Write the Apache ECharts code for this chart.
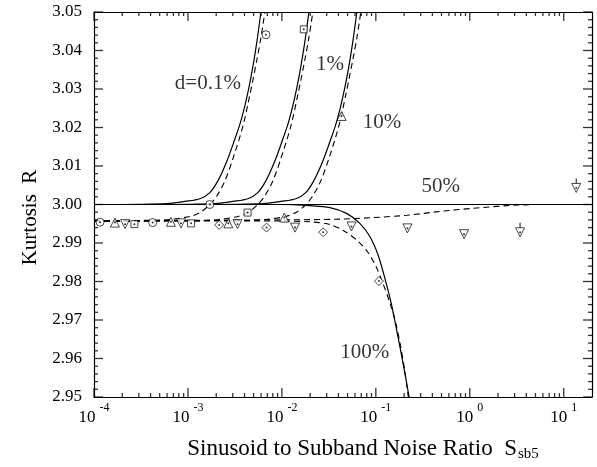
<!DOCTYPE html>
<html>
<head>
<meta charset="utf-8">
<script src="https://cdn.jsdelivr.net/npm/echarts@6/dist/echarts.min.js"></script>
<style>
html,body{margin:0;padding:0;background:#fff;}
#main{width:597px;height:467px;}
</style>
</head>
<body>
<div id="main"></div>
<script>
// theory curves (solid), [S, R]
const solid01 = [[1e-4,3.0000],[1.9e-4,3.0000],[3.9e-4,3.0001],[6.4e-4,3.0003],[9.3e-4,3.0008],[1.34e-3,3.0015],[1.71e-3,3.0031],[2.09e-3,3.0062],[2.6e-3,3.0113],[3.16e-3,3.0170],[3.57e-3,3.0208],[4.04e-3,3.0257],[4.46e-3,3.0304],[4.91e-3,3.0358],[5.42e-3,3.0423],[5.98e-3,3.0500]];
const solid1 = [[1e-4,3.0000],[6.2e-4,3.0000],[1.26e-3,3.0001],[2.07e-3,3.0003],[3.01e-3,3.0008],[4.34e-3,3.0015],[5.54e-3,3.0031],[6.77e-3,3.0062],[8.42e-3,3.0113],[1.024e-2,3.0170],[1.157e-2,3.0208],[1.309e-2,3.0257],[1.445e-2,3.0304],[1.591e-2,3.0358],[1.756e-2,3.0423],[1.938e-2,3.0500]];
const solid10 = [[1e-4,3.0000],[2e-3,3.0000],[4.1e-3,3.0001],[6.72e-3,3.0003],[9.77e-3,3.0008],[1.407e-2,3.0015],[1.796e-2,3.0031],[2.19e-2,3.0062],[2.73e-2,3.0113],[3.32e-2,3.0170],[3.75e-2,3.0208],[4.24e-2,3.0257],[4.68e-2,3.0304],[5.16e-2,3.0358],[5.69e-2,3.0423],[6.28e-2,3.0500]];
const solid50 = [[1e-4,3.0000],[20,3.0000]];
const solid100 = [[1e-4,3.0000],[0.01,3.0000],[0.0199,2.9997],[0.0324,2.9992],[0.0488,2.9977],[0.0676,2.9951],[0.0863,2.9917],[0.1057,2.9869],[0.1246,2.9809],[0.1469,2.9740],[0.1726,2.9655],[0.1985,2.9577],[0.2259,2.9500]];

// approximations (dashed)
const dash01 = [[1e-4,2.9957],[3.94e-4,2.9959],[6.44e-4,2.9961],[1.05e-3,2.9969],[1.34e-3,2.9979],[1.71e-3,3.0000],[2.04e-3,3.0023],[2.48e-3,3.0062],[3.01e-3,3.0119],[3.85e-3,3.0204],[4.57e-3,3.0286],[5.42e-3,3.0376],[5.98e-3,3.0433],[6.59e-3,3.0500]];
const dash1 = [[1e-4,2.9957],[1.28e-3,2.9959],[2.09e-3,2.9961],[3.40e-3,2.9969],[4.34e-3,2.9979],[5.54e-3,3.0000],[6.61e-3,3.0023],[8.04e-3,3.0062],[9.75e-3,3.0119],[1.247e-2,3.0204],[1.481e-2,3.0286],[1.756e-2,3.0376],[1.938e-2,3.0433],[2.135e-2,3.0500]];
const dash10 = [[1e-4,2.9957],[4.14e-3,2.9959],[6.76e-3,2.9961],[1.10e-2,2.9969],[1.41e-2,2.9979],[1.80e-2,3.0000],[2.14e-2,3.0023],[2.60e-2,3.0062],[3.16e-2,3.0119],[4.04e-2,3.0204],[4.80e-2,3.0286],[5.69e-2,3.0376],[6.28e-2,3.0433],[6.92e-2,3.0500]];
const dash50 = [[1e-4,2.9957],[1e-3,2.9958],[1e-2,2.9960],[0.0414,2.9962],[0.0929,2.9966],[0.214,2.9972],[0.48,2.9982],[1.08,2.9990],[2.48,2.9997],[5.56,3.0000],[20,3.0000]];
const dash100 = [[1e-4,2.9957],[0.01,2.9957],[0.0199,2.9955],[0.0324,2.9948],[0.0468,2.9930],[0.0644,2.9905],[0.0822,2.9876],[0.1,2.9840],[0.1186,2.9796],[0.141,2.9745],[0.1633,2.9691],[0.1845,2.9629],[0.2036,2.9567],[0.2218,2.9500]];

// simulation points
const ptsCircle = [[1.16e-4,2.9954],[4.21e-4,2.9953],[1.71e-3,3.0000],[6.76e-3,3.0441]];
const ptsSquare = [[2.69e-4,2.9949],[1.08e-3,2.9951],[4.31e-3,2.9979],[1.71e-2,3.0455]];
const ptsTriUp = [[1.67e-4,2.9953],[6.59e-4,2.9955],[2.69e-3,2.9951],[1.06e-2,2.9966],[4.32e-2,3.0230]];
const ptsTriDown = [[2.14e-4,2.9949],[8.43e-4,2.9951],[3.37e-3,2.9949],[1.38e-2,2.9940],[5.51e-2,2.9943],[0.217,2.9938],[0.869,2.9923],[3.43,2.9928],[13.6,3.0043]];
const ptsDiamond = [[2.15e-3,2.9947],[6.87e-3,2.9940],[2.75e-2,2.9928],[0.108,2.9801]];
// points that carry a short upper error bar
const ptsErr = [[3.43,2.9928],[13.6,3.0043]];

// curve labels and where they sit (data units)
const curveNames = ['d=0.1%','1%','10%','50%','100%'];
const curveNameAt = [[1.63e-3,3.0314],[0.0325,3.0363],[0.116,3.0214],[0.491,3.0046],[0.0764,2.9616]];

// tick values
const xMajor = [1e-4,1e-3,1e-2,1e-1,1,10];
const xMinor = [2e-4,3e-4,4e-4,5e-4,6e-4,7e-4,8e-4,9e-4,
  2e-3,3e-3,4e-3,5e-3,6e-3,7e-3,8e-3,9e-3,
  2e-2,3e-2,4e-2,5e-2,6e-2,7e-2,8e-2,9e-2,
  0.2,0.3,0.4,0.5,0.6,0.7,0.8,0.9,
  2,3,4,5,6,7,8,9];
const yMajor = [2.95,2.96,2.97,2.98,2.99,3.00,3.01,3.02,3.03,3.04,3.05];
const yMinor = [];
yMajor.slice(0, -1).forEach(function (v) {
  [0.002,0.004,0.006,0.008].forEach(function (d) { yMinor.push(+(v + d).toFixed(3)); });
});

const FONT = 'Liberation Serif';
const INK = '#000';
const xMin = 1e-4, xMax = 20, yMin = 2.95, yMax = 3.05;

const myChart = echarts.init(document.getElementById('main'));

function solid(data) {
  return {type:'line', data:data, showSymbol:false, smooth:0.3, silent:true,
    lineStyle:{color:INK, width:1.2}, z:3};
}
function dashed(data) {
  return {type:'line', data:data, showSymbol:false, smooth:0.3, silent:true,
    lineStyle:{color:INK, width:1.1, type:[6,4]}, z:3};
}
function marks(data, symbol, size, rot) {
  return {type:'scatter', data:data, symbol:symbol, symbolSize:size, symbolRotate:rot || 0,
    itemStyle:{color:'#fff', borderColor:INK, borderWidth:0.9}, z:5};
}
// short tick marks drawn as thin bars at axis values, pointing into the plot
function tickMarks(data, size, offset) {
  return {type:'scatter', data:data, symbol:'rect', symbolSize:size, symbolOffset:offset,
    silent:true, clip:false, itemStyle:{color:INK}, z:8};
}

const xLabel = function (v) {
  const e = Math.round(Math.log10(v));
  if (Math.abs(v - Math.pow(10, e)) > 1e-9 * Math.pow(10, e)) return '';
  return '{b|10}{s|' + e + '}';
};

function logAxis(pos) {
  return {type:'log', logBase:10, min:xMin, max:xMax, position:pos,
    axisLine:{show:true, lineStyle:{color:INK, width:1.2}},
    axisTick:{show:false}, splitLine:{show:false}};
}

const xBottom = logAxis('bottom');
xBottom.axisLabel = {formatter:xLabel, margin:5, color:INK, showMaxLabel:false,
  rich:{b:{fontFamily:FONT, fontSize:17, color:INK, lineHeight:24, verticalAlign:'bottom'},
        s:{fontFamily:FONT, fontSize:12, color:INK, verticalAlign:'top', padding:[0,0,0,4]}}};
xBottom.name = '{t|Sinusoid to Subband Noise Ratio  S}{sub|sb5}';
xBottom.nameLocation = 'middle';
xBottom.nameGap = 40;
xBottom.nameTextStyle = {padding:[0,0,0,40],
  rich:{t:{fontFamily:FONT, fontSize:23, color:INK, lineHeight:25, verticalAlign:'top'},
        sub:{fontFamily:FONT, fontSize:15, color:INK, verticalAlign:'bottom', padding:[10,0,0,1]}}};
const xTop = logAxis('top');
xTop.axisLabel = {show:false};

function valAxis(pos) {
  return {type:'value', min:yMin, max:yMax, interval:0.01, position:pos,
    axisLine:{show:true, lineStyle:{color:INK, width:1.2}},
    axisTick:{show:false}, splitLine:{show:false}};
}
const yLeft = valAxis('left');
yLeft.axisLabel = {formatter:function (v) { return v.toFixed(2); }, fontFamily:FONT, fontSize:17, color:INK, margin:12};
yLeft.name = 'Kurtosis  R';
yLeft.nameLocation = 'middle';
yLeft.nameGap = 45;
yLeft.nameTextStyle = {fontFamily:FONT, fontSize:21, color:INK, padding:[0,26,0,0]};
const yRight = valAxis('right');
yRight.axisLabel = {show:false};

const option = {
  animation:false,
  backgroundColor:'#fff',
  grid:{left:94, right:5, top:12, bottom:67},
  xAxis:[xBottom, xTop],
  yAxis:[yLeft, yRight],
  series:[
    solid(solid01), solid(solid1), solid(solid10), solid(solid50), solid(solid100),
    dashed(dash01), dashed(dash1), dashed(dash10), dashed(dash50), dashed(dash100),
    {type:'scatter', data:ptsErr, symbol:'rect', symbolSize:[1.2,5], symbolOffset:[0,-7],
     silent:true, itemStyle:{color:INK}, z:4},
    marks(ptsCircle, 'circle', 8),
    marks(ptsSquare, 'rect', 7),
    marks(ptsTriUp, 'triangle', 9),
    marks(ptsTriDown, 'triangle', 9, 180),
    marks(ptsDiamond, 'diamond', 9),
    {type:'scatter', symbol:'circle', symbolSize:2, silent:true, z:6,
     itemStyle:{color:INK},
     data:[].concat(ptsCircle, ptsSquare, ptsTriUp, ptsTriDown, ptsDiamond)},
    // x ticks, bottom and top
    tickMarks(xMajor.map(function (v) { return [v, yMin]; }), [1.3,9], [0,-4.5]),
    tickMarks(xMajor.map(function (v) { return [v, yMax]; }), [1.3,9], [0,4.5]),
    tickMarks(xMinor.map(function (v) { return [v, yMin]; }), [1.3,4], [0,-2]),
    tickMarks(xMinor.map(function (v) { return [v, yMax]; }), [1.3,4], [0,2]),
    // y ticks, left and right
    tickMarks(yMajor.map(function (v) { return [xMin, v]; }), [9,1.3], [4.5,0]),
    tickMarks(yMajor.map(function (v) { return [xMax, v]; }), [9,1.3], [-4.5,0]),
    tickMarks(yMinor.map(function (v) { return [xMin, v]; }), [4,1.3], [2,0]),
    tickMarks(yMinor.map(function (v) { return [xMax, v]; }), [4,1.3], [-2,0]),
    {type:'scatter', symbolSize:0, silent:true, z:7,
     data:curveNameAt.map(function (p, i) { return {value:p, name:curveNames[i]}; }),
     label:{show:true, position:'inside', formatter:'{b}', fontFamily:FONT, fontSize:21, color:INK}}
  ]
};

myChart.setOption(option);
</script>
</body>
</html>
